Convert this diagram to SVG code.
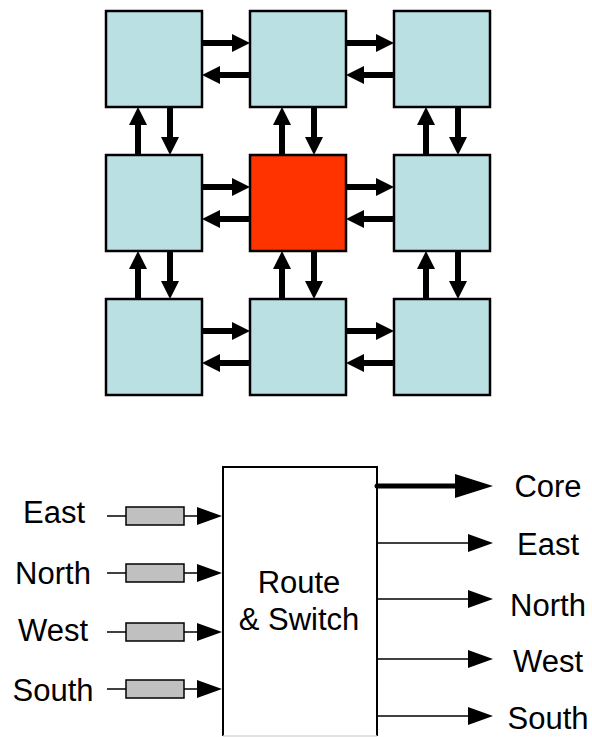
<svg xmlns="http://www.w3.org/2000/svg" width="592" height="737" viewBox="0 0 592 737">
<style>
.cell{fill:#BBE0E3;stroke:#000;stroke-width:2.5}
.hot{fill:#FF3300;stroke:#000;stroke-width:2.5}
.link{stroke:#000;stroke-width:6;fill:none}
.thin{stroke:#000;stroke-width:1.5;fill:none}
.thick{stroke:#000;stroke-width:5;fill:none;stroke-linecap:round}
.buf{fill:#C0C0C0;stroke:#000;stroke-width:1.5}
.lbl{font-family:"Liberation Sans",Arial,sans-serif;font-size:31px;fill:#000;text-anchor:middle}
</style>
<defs>
<marker id="gh" markerUnits="userSpaceOnUse" markerWidth="18" markerHeight="18" refX="0" refY="9" orient="auto" viewBox="0 0 18 18"><path d="M0,0 L18,9 L0,18 Z" fill="#000"/></marker>
<marker id="th" markerUnits="userSpaceOnUse" markerWidth="25" markerHeight="18" refX="0" refY="9" orient="auto" viewBox="0 0 25 18"><path d="M0,0 L25,9 L0,18 Z" fill="#000"/></marker>
<marker id="bh" markerUnits="userSpaceOnUse" markerWidth="38" markerHeight="24" refX="0" refY="12" orient="auto" viewBox="0 0 38 24"><path d="M0,0 L38,12 L0,24 Z" fill="#000"/></marker>
</defs>

<g id="n00"><rect class="cell" x="106" y="11" width="96" height="96"/></g>
<g id="n01"><rect class="cell" x="250" y="11" width="96" height="96"/></g>
<g id="n02"><rect class="cell" x="394" y="11" width="96" height="96"/></g>
<g id="n10"><rect class="cell" x="106" y="155" width="96" height="96"/></g>
<g id="n11"><rect class="hot" x="250" y="155" width="96" height="96"/></g>
<g id="n12"><rect class="cell" x="394" y="155" width="96" height="96"/></g>
<g id="n20"><rect class="cell" x="106" y="299" width="96" height="96"/></g>
<g id="n21"><rect class="cell" x="250" y="299" width="96" height="96"/></g>
<g id="n22"><rect class="cell" x="394" y="299" width="96" height="96"/></g>

<g id="grid-links">
<line class="link" x1="202" y1="43" x2="232" y2="43" marker-end="url(#gh)"/>
<line class="link" x1="250" y1="75" x2="220" y2="75" marker-end="url(#gh)"/>
<line class="link" x1="346" y1="43" x2="376" y2="43" marker-end="url(#gh)"/>
<line class="link" x1="394" y1="75" x2="364" y2="75" marker-end="url(#gh)"/>
<line class="link" x1="202" y1="187" x2="232" y2="187" marker-end="url(#gh)"/>
<line class="link" x1="250" y1="219" x2="220" y2="219" marker-end="url(#gh)"/>
<line class="link" x1="346" y1="187" x2="376" y2="187" marker-end="url(#gh)"/>
<line class="link" x1="394" y1="219" x2="364" y2="219" marker-end="url(#gh)"/>
<line class="link" x1="202" y1="331" x2="232" y2="331" marker-end="url(#gh)"/>
<line class="link" x1="250" y1="363" x2="220" y2="363" marker-end="url(#gh)"/>
<line class="link" x1="346" y1="331" x2="376" y2="331" marker-end="url(#gh)"/>
<line class="link" x1="394" y1="363" x2="364" y2="363" marker-end="url(#gh)"/>
<line class="link" x1="138" y1="155" x2="138" y2="125" marker-end="url(#gh)"/>
<line class="link" x1="170" y1="107" x2="170" y2="137" marker-end="url(#gh)"/>
<line class="link" x1="282" y1="155" x2="282" y2="125" marker-end="url(#gh)"/>
<line class="link" x1="314" y1="107" x2="314" y2="137" marker-end="url(#gh)"/>
<line class="link" x1="426" y1="155" x2="426" y2="125" marker-end="url(#gh)"/>
<line class="link" x1="458" y1="107" x2="458" y2="137" marker-end="url(#gh)"/>
<line class="link" x1="138" y1="299" x2="138" y2="269" marker-end="url(#gh)"/>
<line class="link" x1="170" y1="251" x2="170" y2="281" marker-end="url(#gh)"/>
<line class="link" x1="282" y1="299" x2="282" y2="269" marker-end="url(#gh)"/>
<line class="link" x1="314" y1="251" x2="314" y2="281" marker-end="url(#gh)"/>
<line class="link" x1="426" y1="299" x2="426" y2="269" marker-end="url(#gh)"/>
<line class="link" x1="458" y1="251" x2="458" y2="281" marker-end="url(#gh)"/>
</g>

<g id="router">
<rect x="223" y="467" width="154" height="269" fill="#fff"/>
<path d="M223,736 V467 H377 V736" fill="none" stroke="#000" stroke-width="2"/>
<line x1="223" y1="736" x2="377" y2="736" stroke="#d8d8d8" stroke-width="1.5"/>
<text class="lbl" x="299" y="593">Route</text>
<text class="lbl" x="299" y="630">&amp; Switch</text>
</g>

<g id="in-east"><text class="lbl" x="54" y="523">East</text><rect class="buf" x="126" y="507" width="58" height="18"/></g>
<g id="in-north"><text class="lbl" x="53" y="584">North</text><rect class="buf" x="126" y="564" width="58" height="18"/></g>
<g id="in-west"><text class="lbl" x="53" y="641">West</text><rect class="buf" x="126" y="623" width="58" height="18"/></g>
<g id="in-south"><text class="lbl" x="53" y="701">South</text><rect class="buf" x="126" y="680" width="58" height="18"/></g>

<g id="out-core"><text class="lbl" x="548" y="497">Core</text></g>
<g id="out-east"><text class="lbl" x="548" y="555">East</text></g>
<g id="out-north"><text class="lbl" x="548" y="616">North</text></g>
<g id="out-west"><text class="lbl" x="548" y="672">West</text></g>
<g id="out-south"><text class="lbl" x="548" y="729">South</text></g>

<g id="io-links">
<line class="thin" x1="107" y1="516" x2="126" y2="516"/>
<line class="thin" x1="184" y1="516" x2="197" y2="516" marker-end="url(#th)"/>
<line class="thin" x1="107" y1="573" x2="126" y2="573"/>
<line class="thin" x1="184" y1="573" x2="197" y2="573" marker-end="url(#th)"/>
<line class="thin" x1="107" y1="632" x2="126" y2="632"/>
<line class="thin" x1="184" y1="632" x2="197" y2="632" marker-end="url(#th)"/>
<line class="thin" x1="107" y1="689" x2="126" y2="689"/>
<line class="thin" x1="184" y1="689" x2="197" y2="689" marker-end="url(#th)"/>
<line class="thick" x1="377" y1="486" x2="455" y2="486" marker-end="url(#bh)"/>
<line class="thin" x1="377" y1="543" x2="468" y2="543" marker-end="url(#th)"/>
<line class="thin" x1="377" y1="599" x2="468" y2="599" marker-end="url(#th)"/>
<line class="thin" x1="377" y1="659" x2="468" y2="659" marker-end="url(#th)"/>
<line class="thin" x1="377" y1="716" x2="468" y2="716" marker-end="url(#th)"/>
</g>
</svg>
